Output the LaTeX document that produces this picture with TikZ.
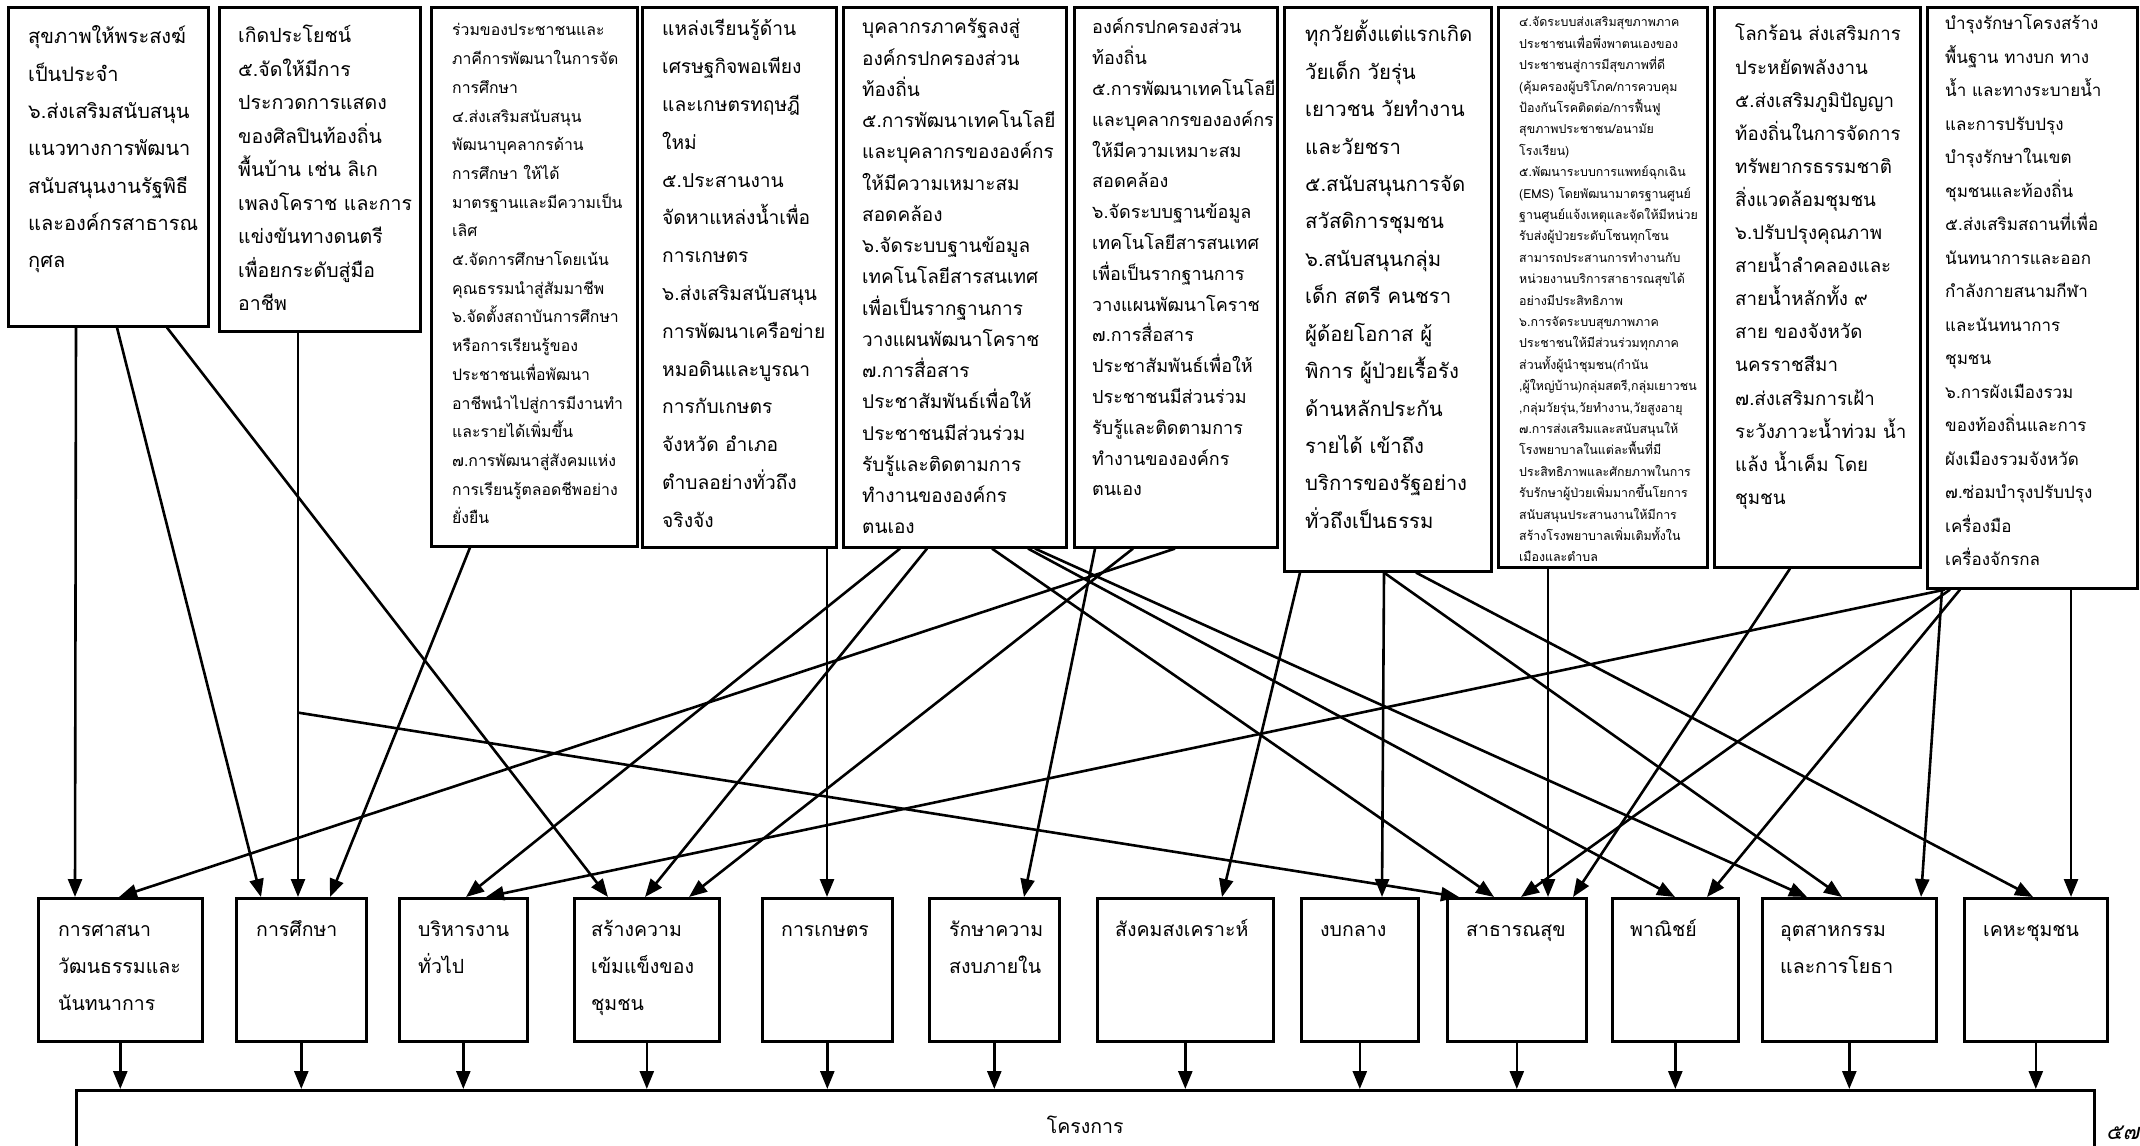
\documentclass[tikz,border=0pt]{standalone}
\usepackage{fontspec}
\setmainfont{Loma}[Script=Thai]
\newfontfamily\thaislant[Script=Thai,FakeSlant=0.2]{Loma}
\usetikzlibrary{arrows.meta}
\newcommand{\thaisize}[2]{\fontsize{#1}{#2}\selectfont}
\newcommand{\textlines}[1]{\begin{tabular}[t]{@{}l@{}}#1\end{tabular}}

\tikzset{
  srcbox/.style={draw, line width=2.6pt, anchor=north west, inner sep=0pt},
  srctxt/.style={anchor=base west, inner sep=0pt},
  deptbox/.style={draw, line width=2.6pt, anchor=north west, inner sep=0pt, minimum height=143},
  depttxt/.style={anchor=base west, inner sep=0pt, font=\thaisize{19.5}{37}},
  arrow/.style={-{Triangle[length=18pt,width=14pt]}, line width=2.6pt},
}

\begin{document}
\begin{tikzpicture}[x=1pt, y=-1pt]
    \useasboundingbox (0,0) rectangle (2140,1145);
    \clip (0,0) rectangle (2140,1145);

    % top row: the measures
    \node[srcbox, minimum width=200, minimum height=319] (src1) at (7,6) {};
    \node[srcbox, minimum width=201, minimum height=324] (src2) at (218,6) {};
    \node[srcbox, minimum width=206, minimum height=539] (src3) at (430,6) {};
    \node[srcbox, minimum width=194, minimum height=540] (src4) at (641,6) {};
    \node[srcbox, minimum width=223, minimum height=540] (src5) at (842,6) {};
    \node[srcbox, minimum width=203, minimum height=540] (src6) at (1073,6) {};
    \node[srcbox, minimum width=207, minimum height=564] (src7) at (1283,6) {};
    \node[srcbox, minimum width=209, minimum height=560] (src8) at (1497,6) {};
    \node[srcbox, minimum width=206, minimum height=560] (src9) at (1713,6) {};
    \node[srcbox, minimum width=210, minimum height=581] (src10) at (1926,6) {};

    \node[srctxt, font=\thaisize{20}{37.3}] (src1txt) at ([shift={(21,38)}]src1.north west)
        {\textlines{สุขภาพให้พระสงฆ์\\เป็นประจำ\\๖.ส่งเสริมสนับสนุน\\แนวทางการพัฒนา\\สนับสนุนงานรัฐพิธี\\และองค์กรสาธารณ\\กุศล}};
    \node[srctxt, font=\thaisize{19.5}{33.5}] (src2txt) at ([shift={(20,37)}]src2.north west)
        {\textlines{เกิดประโยชน์\\๕.จัดให้มีการ\\ประกวดการแสดง\\ของศิลปินท้องถิ่น\\พื้นบ้าน เช่น ลิเก\\เพลงโคราช และการ\\แข่งขันทางดนตรี\\เพื่อยกระดับสู่มือ\\อาชีพ}};
    \node[srctxt, font=\thaisize{15.8}{28.7}] (src3txt) at ([shift={(22,30)}]src3.north west)
        {\textlines{ร่วมของประชาชนและ\\ภาคีการพัฒนาในการจัด\\การศึกษา\\๔.ส่งเสริมสนับสนุน\\พัฒนาบุคลากรด้าน\\การศึกษา ให้ได้\\มาตรฐานและมีความเป็น\\เลิศ\\๕.จัดการศึกษาโดยเน้น\\คุณธรรมนำสู่สัมมาชีพ\\๖.จัดตั้งสถาบันการศึกษา\\หรือการเรียนรู้ของ\\ประชาชนเพื่อพัฒนา\\อาชีพนำไปสู่การมีงานทำ\\และรายได้เพิ่มขึ้น\\๗.การพัฒนาสู่สังคมแห่ง\\การเรียนรู้ตลอดชีพอย่าง\\ยั่งยืน}};
    \node[srctxt, font=\thaisize{19.2}{37.8}] (src4txt) at ([shift={(21,30)}]src4.north west)
        {\textlines{แหล่งเรียนรู้ด้าน\\เศรษฐกิจพอเพียง\\และเกษตรทฤษฎี\\ใหม่\\๕.ประสานงาน\\จัดหาแหล่งน้ำเพื่อ\\การเกษตร\\๖.ส่งเสริมสนับสนุน\\การพัฒนาเครือข่าย\\หมอดินและบูรณา\\การกับเกษตร\\จังหวัด อำเภอ\\ตำบลอย่างทั่วถึง\\จริงจัง}};
    \node[srctxt, font=\thaisize{19}{31.25}] (src5txt) at ([shift={(20,28)}]src5.north west)
        {\textlines{บุคลากรภาครัฐลงสู่\\องค์กรปกครองส่วน\\ท้องถิ่น\\๕.การพัฒนาเทคโนโลยี\\และบุคลากรขององค์กร\\ให้มีความเหมาะสม\\สอดคล้อง\\๖.จัดระบบฐานข้อมูล\\เทคโนโลยีสารสนเทศ\\เพื่อเป็นรากฐานการ\\วางแผนพัฒนาโคราช\\๗.การสื่อสาร\\ประชาสัมพันธ์เพื่อให้\\ประชาชนมีส่วนร่วม\\รับรู้และติดตามการ\\ทำงานขององค์กร\\ตนเอง}};
    \node[srctxt, font=\thaisize{18}{30.8}] (src6txt) at ([shift={(19,28)}]src6.north west)
        {\textlines{องค์กรปกครองส่วน\\ท้องถิ่น\\๕.การพัฒนาเทคโนโลยี\\และบุคลากรขององค์กร\\ให้มีความเหมาะสม\\สอดคล้อง\\๖.จัดระบบฐานข้อมูล\\เทคโนโลยีสารสนเทศ\\เพื่อเป็นรากฐานการ\\วางแผนพัฒนาโคราช\\๗.การสื่อสาร\\ประชาสัมพันธ์เพื่อให้\\ประชาชนมีส่วนร่วม\\รับรู้และติดตามการ\\ทำงานขององค์กร\\ตนเอง}};
    \node[srctxt, font=\thaisize{20.3}{37.4}] (src7txt) at ([shift={(22,36)}]src7.north west)
        {\textlines{ทุกวัยตั้งแต่แรกเกิด\\วัยเด็ก วัยรุ่น\\เยาวชน วัยทำงาน\\และวัยชรา\\๕.สนับสนุนการจัด\\สวัสดิการชุมชน\\๖.สนับสนุนกลุ่ม\\เด็ก สตรี คนชรา\\ผู้ด้อยโอกาส ผู้\\พิการ ผู้ป่วยเรื้อรัง\\ด้านหลักประกัน\\รายได้ เข้าถึง\\บริการของรัฐอย่าง\\ทั่วถึงเป็นธรรม}};
    \node[srctxt, font=\thaisize{12.4}{21.4}] (src8txt) at ([shift={(22,21)}]src8.north west)
        {\textlines{๔.จัดระบบส่งเสริมสุขภาพภาค\\ประชาชนเพื่อพึ่งพาตนเองของ\\ประชาชนสู่การมีสุขภาพที่ดี\\(คุ้มครองผู้บริโภค/การควบคุม\\ป้องกันโรคติดต่อ/การฟื้นฟู\\สุขภาพประชาชน/อนามัย\\โรงเรียน)\\๕.พัฒนาระบบการแพทย์ฉุกเฉิน\\(EMS) โดยพัฒนามาตรฐานศูนย์\\ฐานศูนย์แจ้งเหตุและจัดให้มีหน่วย\\รับส่งผู้ป่วยระดับโซนทุกโซน\\สามารถประสานการทำงานกับ\\หน่วยงานบริการสาธารณสุขได้\\อย่างมีประสิทธิภาพ\\๖.การจัดระบบสุขภาพภาค\\ประชาชนให้มีส่วนร่วมทุกภาค\\ส่วนทั้งผู้นำชุมชน(กำนัน\\,ผู้ใหญ่บ้าน)กลุ่มสตรี,กลุ่มเยาวชน\\,กลุ่มวัยรุ่น,วัยทำงาน,วัยสูงอายุ\\๗.การส่งเสริมและสนับสนุนให้\\โรงพยาบาลในแต่ละพื้นที่มี\\ประสิทธิภาพและศักยภาพในการ\\รับรักษาผู้ป่วยเพิ่มมากขึ้นโยการ\\สนับสนุนประสานงานให้มีการ\\สร้างโรงพยาบาลเพิ่มเติมทั้งใน\\เมืองและตำบล}};
    \node[srctxt, font=\thaisize{18.7}{33.1}] (src9txt) at ([shift={(22,35)}]src9.north west)
        {\textlines{โลกร้อน ส่งเสริมการ\\ประหยัดพลังงาน\\๕.ส่งเสริมภูมิปัญญา\\ท้องถิ่นในการจัดการ\\ทรัพยากรธรรมชาติ\\สิ่งแวดล้อมชุมชน\\๖.ปรับปรุงคุณภาพ\\สายน้ำลำคลองและ\\สายน้ำหลักทั้ง ๙\\สาย ของจังหวัด\\นครราชสีมา\\๗.ส่งเสริมการเฝ้า\\ระวังภาวะน้ำท่วม น้ำ\\แล้ง น้ำเค็ม โดย\\ชุมชน}};
    \node[srctxt, font=\thaisize{17}{33.5}] (src10txt) at ([shift={(19,24)}]src10.north west)
        {\textlines{บำรุงรักษาโครงสร้าง\\พื้นฐาน ทางบก ทาง\\น้ำ และทางระบายน้ำ\\และการปรับปรุง\\บำรุงรักษาในเขต\\ชุมชนและท้องถิ่น\\๕.ส่งเสริมสถานที่เพื่อ\\นันทนาการและออก\\กำลังกายสนามกีฬา\\และนันทนาการ\\ชุมชน\\๖.การผังเมืองรวม\\ของท้องถิ่นและการ\\ผังเมืองรวมจังหวัด\\๗.ซ่อมบำรุงปรับปรุง\\เครื่องมือ\\เครื่องจักรกล}};

    % bottom row: the work plans
    \node[deptbox, minimum width=164] (dept1) at (37,897) {};
    \node[deptbox, minimum width=130] (dept2) at (235,897) {};
    \node[deptbox, minimum width=128] (dept3) at (398,897) {};
    \node[deptbox, minimum width=145] (dept4) at (573,897) {};
    \node[deptbox, minimum width=130] (dept5) at (761,897) {};
    \node[deptbox, minimum width=130] (dept6) at (928,897) {};
    \node[deptbox, minimum width=176] (dept7) at (1096,897) {};
    \node[deptbox, minimum width=117] (dept8) at (1300,897) {};
    \node[deptbox, minimum width=139] (dept9) at (1446,897) {};
    \node[deptbox, minimum width=126] (dept10) at (1611,897) {};
    \node[deptbox, minimum width=174] (dept11) at (1761,897) {};
    \node[deptbox, minimum width=143] (dept12) at (1963,897) {};

    \node[depttxt] (dept1txt) at ([shift={(21,39)}]dept1.north west) {\textlines{การศาสนา\\วัฒนธรรมและ\\นันทนาการ}};
    \node[depttxt] (dept2txt) at ([shift={(21,39)}]dept2.north west) {การศึกษา};
    \node[depttxt] (dept3txt) at ([shift={(20,39)}]dept3.north west) {\textlines{บริหารงาน\\ทั่วไป}};
    \node[depttxt] (dept4txt) at ([shift={(18,39)}]dept4.north west) {\textlines{สร้างความ\\เข้มแข็งของ\\ชุมชน}};
    \node[depttxt] (dept5txt) at ([shift={(20,39)}]dept5.north west) {การเกษตร};
    \node[depttxt] (dept6txt) at ([shift={(21,39)}]dept6.north west) {\textlines{รักษาความ\\สงบภายใน}};
    \node[depttxt] (dept7txt) at ([shift={(19,39)}]dept7.north west) {สังคมสงเคราะห์};
    \node[depttxt] (dept8txt) at ([shift={(20,39)}]dept8.north west) {งบกลาง};
    \node[depttxt] (dept9txt) at ([shift={(20,39)}]dept9.north west) {สาธารณสุข};
    \node[depttxt] (dept10txt) at ([shift={(19,39)}]dept10.north west) {พาณิชย์};
    \node[depttxt] (dept11txt) at ([shift={(19,39)}]dept11.north west) {\textlines{อุตสาหกรรม\\และการโยธา}};
    \node[depttxt] (dept12txt) at ([shift={(20,39)}]dept12.north west) {เคหะชุมชน};

    % the project box, cut by the page
    \node[deptbox, minimum width=2018, minimum height=68, font=\thaisize{19.5}{37}] (proj) at (75,1089) {โครงการ};
    \node[anchor=north west, inner sep=0pt, font=\thaislant\thaisize{22}{30}] (pageno) at (2106,1126) {๕๗};

    % measure -> plan
    \coordinate (fork) at ([shift={(80,380)}]src2.south west);
    \path [arrow] ([xshift=69]src1.south west) edge ([xshift=38]dept1.north west);
    \path [arrow] ([xshift=110]src1.south west) edge ([xshift=26]dept2.north west);
    \path [arrow] ([xshift=160]src1.south west) edge ([xshift=35]dept4.north west);
    \path [arrow] ([xshift=80]src2.south west) edge ([xshift=63]dept2.north west);
    \path [arrow] (fork) edge ([xshift=13]dept9.north west);
    \path [arrow] ([xshift=40]src3.south west) edge ([xshift=95]dept2.north west);
    \path [arrow] ([xshift=186]src4.south west) edge ([xshift=66]dept5.north west);
    \path [arrow] ([xshift=58]src5.south west) edge ([xshift=68]dept3.north west);
    \path [arrow] ([xshift=85]src5.south west) edge ([xshift=72]dept4.north west);
    \path [arrow] ([xshift=150]src5.south west) edge ([xshift=48]dept9.north west);
    \path [arrow] ([xshift=186]src5.south west) edge ([xshift=64]dept10.north west);
    \path [arrow] ([xshift=193]src5.south west) edge ([xshift=46]dept11.north west);
    \path [arrow] ([xshift=22]src6.south west) edge ([xshift=96]dept6.north west);
    \path [arrow] ([xshift=60]src6.south west) edge ([xshift=116]dept4.north west);
    \path [arrow] ([xshift=102]src6.south west) edge ([xshift=82]dept1.north west);
    \path [arrow] ([xshift=17]src7.south west) edge ([xshift=126]dept7.north west);
    \path [arrow] ([xshift=101]src7.south west) edge ([xshift=82]dept8.north west);
    \path [arrow] ([xshift=101]src7.south west) edge ([xshift=81]dept11.north west);
    \path [arrow] ([xshift=133]src7.south west) edge ([xshift=70]dept12.north west);
    \path [arrow] ([xshift=51]src8.south west) edge ([xshift=102]dept9.north west);
    \path [arrow] ([xshift=77]src9.south west) edge ([xshift=127]dept9.north west);
    \path [arrow] ([xshift=19]src10.south west) edge ([xshift=88]dept3.north west);
    \path [arrow] ([xshift=24]src10.south west) edge ([xshift=75]dept9.north west);
    \path [arrow] ([xshift=34]src10.south west) edge ([xshift=96]dept10.north west);
    \path [arrow] ([xshift=16]src10.south west) edge ([xshift=160]dept11.north west);
    \path [arrow] ([xshift=145]src10.south west) edge ([xshift=108]dept12.north west);

    % plan -> project
    \foreach \d in {1,...,12}
        \path [arrow] (dept\d.south) edge (dept\d.south |- proj.north);
\end{tikzpicture}
\end{document}
